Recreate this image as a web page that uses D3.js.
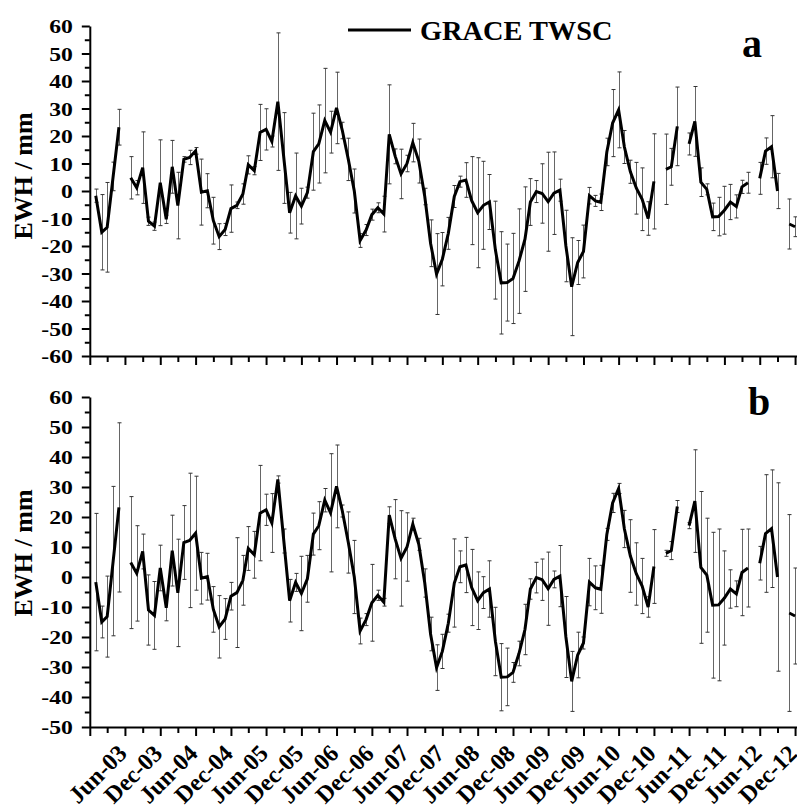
<!DOCTYPE html>
<html>
<head>
<meta charset="utf-8">
<script src="https://cdn.jsdelivr.net/npm/d3@7"></script>
<style>
  body { margin: 0; background: #fff; }
  text { font-family: 'Liberation Serif', serif; font-weight: bold; fill: #000; }
</style>
</head>
<body>
<script>
// monthly GRACE TWSC, Jan 2003 .. Dec 2012 (null = missing month)
const firstMonth = new Date(2003, 0, 1);

const twsc = [
  -1.7, -15.0, -13.2, 5.3, 23.2, null, 4.8, 1.2, 8.5, -11.0, -12.8, 3.0,
  -10.3, 8.8, -5.3, 11.5, 12.2, 14.6, -0.4, 0.1, -10.8, -16.6, -14.0, -6.4,
  -5.2, -1.1, 9.5, 7.4, 21.3, 22.4, 18.0, 32.5, 12.0, -7.9, -1.8, -5.5,
  -0.6, 14.3, 17.1, 25.6, 21.4, 30.2, 22.0, 11.5, 0.0, -18.0, -14.2, -8.6,
  -6.1, -8.4, 20.6, 12.6, 6.2, 10.0, 17.6, 10.9, -2.0, -19.0, -30.2, -24.8,
  -15.4, -2.0, 3.4, 4.0, -3.5, -7.9, -5.2, -4.0, -21.5, -33.4, -33.3, -31.8,
  -25.5, -17.5, -4.0, -0.2, -0.9, -3.9, -0.8, 0.3, -20.0, -34.8, -26.0, -22.0,
  -1.7, -3.6, -4.1, 14.2, 24.7, 29.5, 16.0, 7.0, 1.0, -3.0, -10.0, 3.5,
  null, 7.9, 8.8, 23.5, null, 17.1, 25.3, 3.2, 0.6, -9.4, -9.3, -7.0,
  -4.0, -5.6, 1.5, 3.0, null, 4.6, 14.5, 16.1, 0.0, null, -12.0, -13.0
];

// error bar half-widths, panel a
const errA = [
  2.4, 13.7, 16.3, 5.2, 6.5, null, 7.7, 2.6, 13, 1.5, 1.5, 15.6,
  1.5, 9.6, 12.1, 1, 2.6, 1.2, 12, 6.2, 8.5, 4.7, 2.2, 8.6,
  1.2, 3.7, 3.3, 1.5, 10.2, 7.5, 2, 25, 16.5, 7.4, 15.6, 6.5,
  2, 14, 14.2, 19, 7.6, 13, 3, 7.7, 8, 2.5, 2, 2,
  1.8, 6.5, 18, 2.7, 9, 3, 7, 8, 3, 8.5, 14.7, 9.7,
  5.8, 4, 2, 6.3, 16, 20, 16, 10, 17.8, 18.6, 14, 16.4,
  19, 19, 8.5, 4, 10.8, 18, 15, 4, 13, 17.8, 8, 9.6,
  3, 2, 3, 5, 12.2, 13.8, 6, 4.2, 9.4, 11.4, 6.1, 17.3,
  null, 12.8, 6.7, 14.3, null, 4, 12.7, 5.2, 2, 5, 7, 8.7,
  6.4, 4.2, 2.4, 3.8, null, 5.8, 4.8, 11.3, 6.4, null, 9.1, 3.6
];

// error bar half-widths, panel b
const errB = [
  22.9, 5.3, 13.5, 24.9, 28.2, null, 22, 15.9, 5.8, 11.7, 11.3, 7.6,
  4.3, 11.8, 17.9, 12.3, 22.4, 19, 8.6, 7.8, 7.6, 10.4, 6.8, 4.6,
  18.3, 8.3, 7.3, 7.8, 15.9, 5.2, 9.8, 1.2, 4, 7.1, 3, 12.4,
  7.8, 7, 8, 3.9, 19.7, 13.8, 2, 10.2, 12.2, 4.3, 2, 12.8,
  1.7, 1.3, 2.8, 13.2, 15.9, 11.4, 2, 2, 4.7, 5.6, 7.6, 5.7,
  3, 14.7, 5.3, 9.2, 12.7, 9.6, 5.3, 9.4, 11.4, 11.2, 9.6, 3.3,
  4.1, 8.4, 3.4, 5.1, 6.9, 12.2, 2.8, 10.2, 13.5, 10, 7.6, 2,
  7.9, 7.3, 8, 2, 3.2, 1.7, 6.2, 12.1, 10.4, 9.2, 3.4, 12.3,
  null, 1, 3, 2, null, 1, 17.1, 25.3, 19, 24.3, 25.3, 15.7,
  6.4, 4.3, 14.4, 13, null, 5.6, 19.6, 19.6, 31.4, null, 32.8, 16
];

const panelA = {letter: 'a', yDomain: [-60, 60], yRange: [356, 26], err: errA,
  letterPos: [742, 57], titleY: 176};
const panelB = {letter: 'b', yDomain: [-50, 60], yRange: [727, 397], err: errB,
  letterPos: [748, 415], titleY: 553};

const W = 797, H = 812;
const x0 = 89.8;
const FONT = "'Liberation Serif', serif";

function drawViz() {
  const svg = d3.select('body').append('svg')
    .attr('width', W)
    .attr('height', H);

  const data = twsc.map((v, i) => ({
    date: d3.timeMonth.offset(firstMonth, i),
    v: v
  }));

  const x = d3.scaleTime()
    .domain([new Date(2002, 11, 1), new Date(2012, 11, 11)])
    .range([x0, W]);

  [panelA, panelB].forEach((p, k) => drawPanel(svg, p, data, x, k === 1));

  // legend
  svg.append('line')
    .attr('x1', 348).attr('x2', 411)
    .attr('y1', 30).attr('y2', 30)
    .attr('stroke', '#000')
    .attr('stroke-width', 3);
  svg.append('text')
    .attr('transform', 'translate(420,40) scale(1.07,1)')
    .style('font-size', '26.5px')
    .text('GRACE TWSC');
}

function drawPanel(svg, p, data, x, withLabels) {
  const y = d3.scaleLinear().domain(p.yDomain).range(p.yRange);
  const g = svg.append('g');

  // error bars
  const bars = g.append('g');
  data.forEach((d, i) => {
    const e = p.err[i];
    if (d.v == null || e == null) return;
    const cx = Math.round(x(d.date)) + 0.5;
    bars.append('line')
      .attr('x1', cx).attr('x2', cx)
      .attr('y1', y(d.v + e)).attr('y2', y(d.v - e))
      .attr('stroke', '#666')
      .attr('stroke-width', 1);
    [d.v + e, d.v - e].forEach(t => {
      bars.append('line')
        .attr('x1', cx - 2).attr('x2', cx + 2)
        .attr('y1', y(t)).attr('y2', y(t))
        .attr('stroke', '#333')
        .attr('stroke-width', 1);
    });
  });

  // series line
  const line = d3.line()
    .defined(d => d.v != null)
    .x(d => x(d.date))
    .y(d => y(d.v));

  g.append('path')
    .datum(data)
    .attr('d', line)
    .attr('fill', 'none')
    .attr('stroke', '#000')
    .attr('stroke-width', 3)
    .attr('stroke-linejoin', 'miter');

  // y axis
  const yTicks = d3.range(p.yDomain[0], p.yDomain[1] + 0.1, 5);
  const yAxis = g.append('g')
    .attr('transform', `translate(${x0},0)`)
    .call(d3.axisLeft(y).tickValues(yTicks).tickSizeOuter(0)
      .tickFormat(d => (d % 10 === 0 ? d : '')));
  yAxis.select('.domain').attr('stroke-width', 2);
  yAxis.selectAll('.tick line')
    .attr('stroke-width', 2)
    .attr('x2', d => (d % 10 === 0 ? -8 : -5));
  // labels in the original are wide and squat
  yAxis.selectAll('.tick text')
    .attr('x', 0)
    .attr('dy', '0.36em')
    .attr('transform', 'translate(-17,0) scale(1.28,1)')
    .style('font-size', '18.5px')
    .style('font-family', FONT)
    .style('font-weight', 'bold');

  // x axis: a tick every 3 months from Dec 2002, long ones on Jun and Dec
  const xAxisY = p.yRange[0];
  const xTicks = d3.timeMonth.range(new Date(2002, 11, 1), new Date(2012, 11, 2), 3);
  const fmt = d3.timeFormat('%b-%y');
  const isMajor = d => d.getMonth() === 5 || d.getMonth() === 11;
  const xAxis = g.append('g')
    .attr('transform', `translate(0,${xAxisY})`)
    .call(d3.axisBottom(x).tickValues(xTicks).tickSizeOuter(0).tickFormat(''));
  xAxis.select('.domain').attr('stroke-width', 2);
  xAxis.selectAll('.tick line')
    .attr('stroke-width', 2)
    .attr('y2', d => (isMajor(d) ? 9 : 6));

  if (withLabels) {
    xAxis.selectAll('.tick')
      .filter(d => isMajor(d) && d > new Date(2003, 0, 1))
      .append('text')
      .attr('text-anchor', 'end')
      .attr('transform', 'translate(-9,16) rotate(-45)')
      .attr('dy', '0.7em')
      .style('font-size', '24px')
      .style('font-family', FONT)
      .style('font-weight', 'bold')
      .attr('fill', '#000')
      .text(d => fmt(d));
  }

  // y title
  svg.append('text')
    .attr('transform', `translate(32,${p.titleY}) rotate(-90)`)
    .attr('text-anchor', 'middle')
    .style('font-size', '26px')
    .text('EWH / mm');

  // panel letter
  svg.append('text')
    .attr('x', p.letterPos[0])
    .attr('y', p.letterPos[1])
    .style('font-size', '40px')
    .text(p.letter);
}

drawViz();
</script>
</body>
</html>
